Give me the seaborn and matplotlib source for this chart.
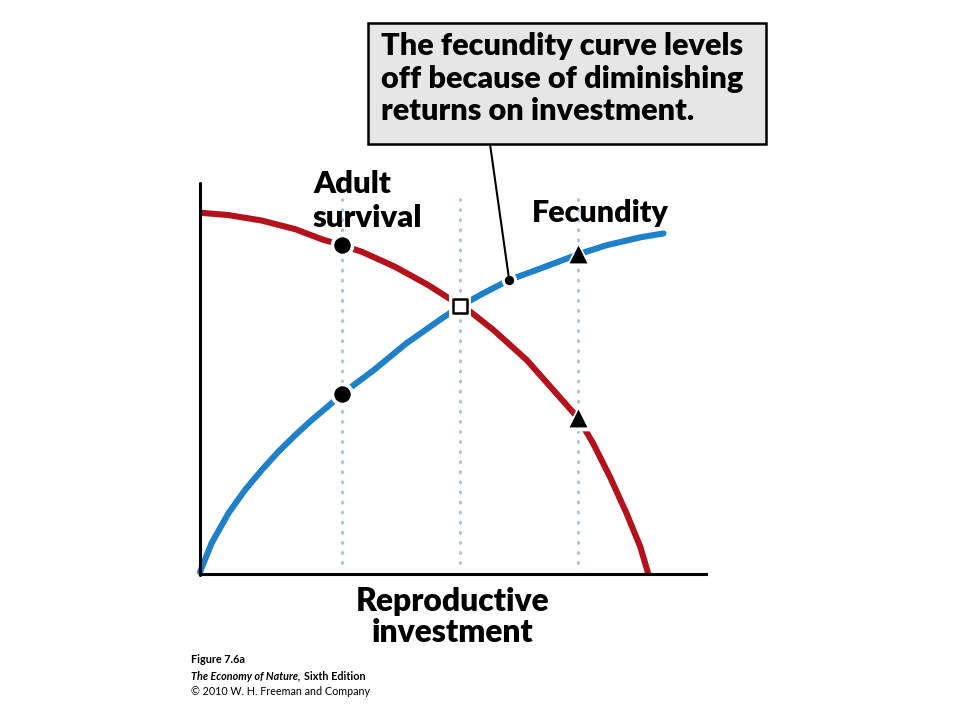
import matplotlib
matplotlib.use("Agg")
import matplotlib.pyplot as plt
import matplotlib.patches as mpatches
import seaborn as sns
import pandas as pd

# reproductive investment (x) vs. value (y), 0-10 scale
survival_x = [0.00, 0.56, 1.22, 1.88, 2.41, 2.80, 3.20, 3.85, 4.51, 4.97, 5.14,
              5.34, 5.80, 6.46, 6.98, 7.48, 7.77, 8.10, 8.43, 8.70, 8.86]
survival_y = [9.24, 9.18, 9.04, 8.82, 8.56, 8.41, 8.24, 7.86, 7.39, 7.01, 6.85,
              6.71, 6.24, 5.47, 4.71, 3.98, 3.34, 2.49, 1.55, 0.70, 0.00]

fecundity_x = [0.00, 0.23, 0.56, 0.89, 1.22, 1.55, 1.88, 2.21, 2.54, 2.80, 3.13,
               3.42, 4.08, 4.74, 5.14, 5.60, 6.11, 6.72, 7.48, 8.04, 8.70, 9.16]
fecundity_y = [0.05, 0.79, 1.55, 2.15, 2.66, 3.13, 3.55, 3.94, 4.30, 4.60, 4.92,
               5.20, 5.90, 6.50, 6.85, 7.18, 7.52, 7.81, 8.18, 8.41, 8.61, 8.71]

# marked investment levels
circle_x = 2.80
circle_y = [8.41, 4.60]
square_x = 5.14
square_y = 6.85
triangle_x = 7.48
triangle_y = [8.18, 3.98]
callout_x = 6.11
callout_y = 7.52
guide_x = [circle_x, square_x, triangle_x]

box_lines = ["The fecundity curve levels",
             "off because of diminishing",
             "returns on investment."]

RED = "#b3121c"
BLUE = "#1d80c8"
GUIDE = "#a9c6d8"
W, H = 960, 720

sns.set_style("white")
plt.rcParams["font.family"] = ["Lato", "DejaVu Sans"]
plt.rcParams["text.color"] = "black"

fig = plt.figure(figsize=(9.6, 7.2), dpi=100)
ax = fig.add_axes([200 / W, 146 / H, 506 / W, 391 / H])
ax.set_xlim(0, 10)
ax.set_ylim(0, 10)
renderer = fig.canvas.get_renderer()


def px(x, y):
    return x / W, 1 - y / H


def fit_width(txt, width):
    w = txt.get_window_extent(renderer).width
    txt.set_fontsize(txt.get_fontsize() * width / w)
    return txt


# dotted guide lines
for gx in guide_x:
    ax.plot([gx, gx], [0.28, 9.82], color=GUIDE, lw=2.2,
            linestyle=(0, (0.3, 3.0)), dash_capstyle="round", zorder=1)

surv = pd.DataFrame({"x": survival_x, "y": survival_y})
fec = pd.DataFrame({"x": fecundity_x, "y": fecundity_y})
sns.lineplot(data=surv, x="x", y="y", color=RED, lw=4.4, sort=False,
             ax=ax, zorder=2, clip_on=False, solid_capstyle="butt",
             solid_joinstyle="round")
sns.lineplot(data=fec, x="x", y="y", color=BLUE, lw=4.4, sort=False,
             ax=ax, zorder=2, clip_on=False, solid_capstyle="round",
             solid_joinstyle="round")

# markers with white halos
circles = pd.DataFrame({"x": [circle_x] * 2, "y": circle_y})
tris = pd.DataFrame({"x": [triangle_x] * 2, "y": triangle_y})
sq = pd.DataFrame({"x": [square_x], "y": [square_y]})
dot = pd.DataFrame({"x": [callout_x], "y": [callout_y]})

sns.scatterplot(data=circles, x="x", y="y", marker="o", s=290, color="white",
                linewidth=0, ax=ax, zorder=3)
sns.scatterplot(data=circles, x="x", y="y", marker="o", s=140, color="black",
                linewidth=0, ax=ax, zorder=4)
sns.scatterplot(data=tris, x="x", y="y", marker="^", s=340, color="white",
                linewidth=0, ax=ax, zorder=3)
sns.scatterplot(data=tris, x="x", y="y", marker="^", s=165, color="black",
                linewidth=0, ax=ax, zorder=4)
sns.scatterplot(data=sq, x="x", y="y", marker="s", s=270, color="white",
                linewidth=0, ax=ax, zorder=3)
sns.scatterplot(data=sq, x="x", y="y", marker="s", s=95, facecolor="white",
                edgecolor="black", linewidth=1.8, ax=ax, zorder=4)
sns.scatterplot(data=dot, x="x", y="y", marker="o", s=120, color="white",
                linewidth=0, ax=ax, zorder=3)
sns.scatterplot(data=dot, x="x", y="y", marker="o", s=45, color="black",
                linewidth=0, ax=ax, zorder=4)

# axes
ax.set_xticks([])
ax.set_yticks([])
ax.set_xlabel("")
ax.set_ylabel("")
for side in ["top", "right", "left"]:
    ax.spines[side].set_visible(False)
ax.spines["bottom"].set_linewidth(2.2)
ax.spines["bottom"].set_color("black")
fig.add_artist(plt.Line2D([200 / W, 200 / W], [1 - 575 / H, 1 - 183 / H],
                          color="black", lw=2.2, transform=fig.transFigure))

# curve labels
bold = dict(fontweight="heavy", color="black", fontsize=20)
fit_width(fig.text(*px(313, 193), "Adult", ha="left", va="baseline", **bold), 110 * 0.71)
t = fit_width(fig.text(*px(313, 227), "survival", ha="left", va="baseline", **bold), 110)
fig.texts[-2].set_fontsize(t.get_fontsize())
fit_width(fig.text(*px(532, 222), "Fecundity", ha="left", va="baseline", **bold), 137)
t = fit_width(fig.text(*px(452.5, 611), "Reproductive", ha="center", va="baseline", **bold), 195)
fig.text(*px(452.5, 642), "investment", ha="center", va="baseline",
         fontsize=t.get_fontsize(), fontweight="heavy", color="black")

# callout box
box = mpatches.Rectangle(px(368, 144), (766 - 368) / W, (144 - 23) / H,
                         transform=fig.transFigure, facecolor="#e6e6e6",
                         edgecolor="black", lw=1.8, zorder=5)
fig.add_artist(box)
first = fit_width(fig.text(*px(381, 55), box_lines[0], ha="left", va="baseline",
                           zorder=6, **bold), 362)
for line, base in zip(box_lines[1:], [88, 120]):
    fig.text(*px(381, base), line, ha="left", va="baseline", zorder=6,
             fontsize=first.get_fontsize(), fontweight="heavy", color="black")
ax.annotate("", xy=(callout_x, callout_y), xycoords="data",
            xytext=px(490, 144), textcoords="figure fraction",
            arrowprops=dict(arrowstyle="-", color="black", lw=1.5, shrinkA=0, shrinkB=0),
            annotation_clip=False, zorder=5)

# credit lines
small = fit_width(fig.text(*px(191, 695), "\u00a9 2010 W. H. Freeman and Company",
                           ha="left", va="baseline", fontsize=9, color="black"), 180)
fs = small.get_fontsize()
fig.text(*px(191, 663), "Figure 7.6a", fontsize=fs, fontweight="bold",
         ha="left", va="baseline", color="black")
t1 = fig.text(*px(191, 680), "The Economy of Nature,", fontsize=fs,
              fontweight="bold", fontstyle="italic", ha="left", va="baseline", color="black")
bb = t1.get_window_extent(renderer)
fig.text((bb.x1 + 3) / W, 1 - 680 / H, "Sixth Edition", fontsize=fs,
         fontweight="bold", ha="left", va="baseline", color="black")

fig.savefig("out.png", dpi=100)
